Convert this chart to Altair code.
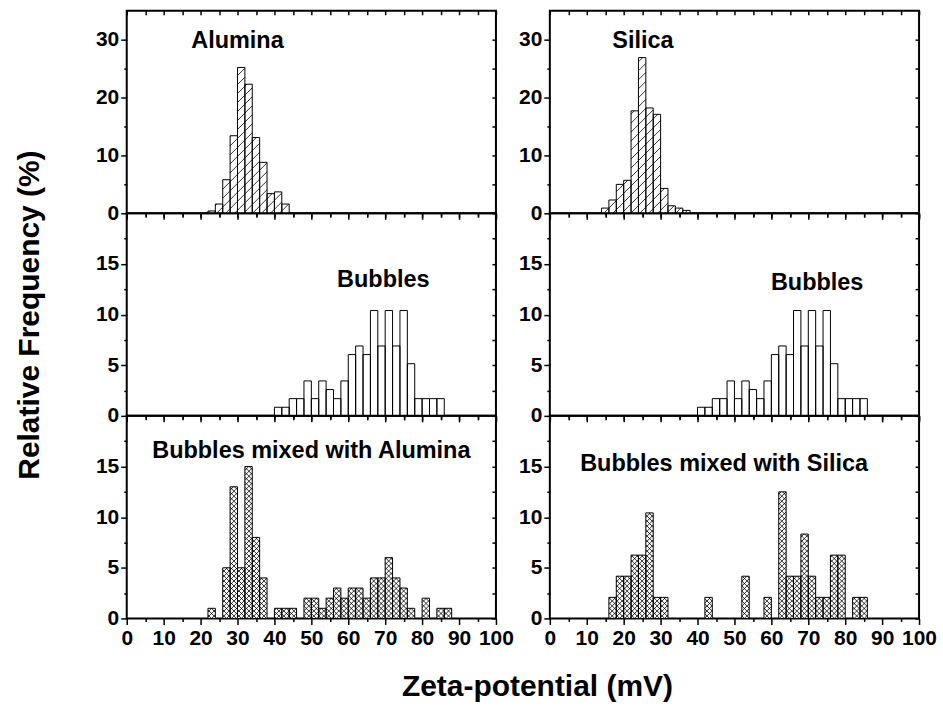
import math
import altair as alt
import pandas as pd

# ---------------------------------------------------------------
# Zeta-potential histograms (2 mV bins), relative frequency in %
# ---------------------------------------------------------------
BIN = 2.0

alumina_start = [22, 24, 26, 28, 30, 32, 34, 36, 38, 40, 42]
alumina_freq = [0.4, 1.6, 5.8, 13.4, 25.2, 22.3, 13.1, 8.8, 3.4, 3.7, 1.6]

silica_start = [14, 16, 18, 20, 22, 24, 26, 28, 30, 32, 34, 36]
silica_freq = [0.9, 2.3, 5.0, 5.7, 17.7, 26.9, 18.2, 17.1, 4.3, 1.3, 0.9, 0.5]

bubble_start = [40, 42, 44, 46, 48, 50, 52, 54, 56, 58, 60, 62,
                64, 66, 68, 70, 72, 74, 76, 78, 80, 82, 84]
bubble_freq = [0.85, 0.85, 1.7, 1.7, 3.45, 1.7, 3.45, 2.6, 1.7, 3.45, 6.05, 6.9,
               6.05, 10.4, 6.9, 10.4, 6.9, 10.4, 5.15, 1.7, 1.7, 1.7, 1.7]

mix_al_start = [22, 26, 28, 30, 32, 34, 36, 40, 42, 44, 48, 50, 52, 54,
                56, 58, 60, 62, 64, 66, 68, 70, 72, 74, 76, 80, 84, 86]
mix_al_freq = [1, 5, 13, 5, 15, 8, 4, 1, 1, 1, 2, 2, 1, 2,
               3, 2, 3, 3, 2, 4, 4, 6, 4, 3, 1, 2, 1, 1]

mix_si_start = [16, 18, 20, 22, 24, 26, 28, 30, 42, 52, 58,
                62, 64, 66, 68, 70, 72, 74, 76, 78, 82, 84]
mix_si_freq = [2.08, 4.17, 4.17, 6.25, 6.25, 10.42, 2.08, 2.08, 2.08, 4.17, 2.08,
               12.5, 4.17, 4.17, 8.33, 4.17, 2.08, 2.08, 6.25, 6.25, 2.08, 2.08]

# ---------------------------------------------------------------
# Panel geometry and styling
# ---------------------------------------------------------------
W, H = 370, 203
FONT = "Liberation Sans"
X_TICKS = [v * 5 for v in range(21)]


def hatch_segments(starts, freqs, ymax, spacing, directions):
    """Diagonal fill lines clipped to each bar, expressed in data units."""
    px = W / 100.0
    py = H / ymax
    rows = []
    for s0, f in zip(starts, freqs):
        x0, x1, hh = s0 * px, (s0 + BIN) * px, f * py
        for d in directions:
            if d == 1:
                cmin, cmax = -x1, hh - x0
            else:
                cmin, cmax = x0, hh + x1
            for k in range(math.ceil(cmin / spacing), math.floor(cmax / spacing) + 1):
                c = k * spacing
                if d == 1:
                    xa, xb = max(x0, -c), min(x1, hh - c)
                else:
                    xa, xb = max(x0, c - hh), min(x1, c)
                if xb - xa < 0.3:
                    continue
                rows.append({"hx": xa / px, "hy": (d * xa + c) / py,
                             "hx2": xb / px, "hy2": (d * xb + c) / py})
    return pd.DataFrame(rows, columns=["hx", "hy", "hx2", "hy2"])


def panel(starts, freqs, ymax, major, minor, pattern, label, label_pos,
          xlabels=False, ytitle=None):
    df = pd.DataFrame({"x0": starts, "freq": freqs})
    df["x1"] = df["x0"] + BIN

    xs = alt.Scale(domain=[0, 100], nice=False, zero=False)
    ys = alt.Scale(domain=[0, ymax], nice=False, zero=True)

    n_minor = int(round(ymax / minor))
    y_vals = [round(i * minor, 3) for i in range(n_minor)]

    bottom_kw = dict(
        orient="bottom", values=X_TICKS, labels=xlabels, title=None,
        tickSize={"condition": {"test": "datum.value % 10 === 0", "value": 6}, "value": 3},
        labelExpr="datum.value % 10 === 0 ? '' + datum.value : ''",
        labelPadding=3,
    )

    left_kw = dict(
        orient="left", values=y_vals,
        tickSize={"condition": {"test": f"datum.value % {major} === 0", "value": 6}, "value": 3},
        labelExpr=f"datum.value % {major} === 0 ? '' + datum.value : ''",
        labelPadding=2,
    )
    if ytitle:
        left_kw.update(title=ytitle, titlePadding=51)
    else:
        left_kw.update(title=None)

    base = alt.Chart(df)

    fill = base.mark_rect(fill="white", stroke=None).encode(
        x=alt.X("x0:Q", scale=xs, axis=alt.Axis(**bottom_kw)),
        x2="x1:Q",
        y=alt.Y("freq:Q", scale=ys, axis=alt.Axis(**left_kw)),
        y2=alt.datum(0),
    )

    layers = [fill]

    if pattern == "diag":
        hd = hatch_segments(starts, freqs, ymax, 9.0, [1])
    elif pattern == "cross":
        hd = hatch_segments(starts, freqs, ymax, 5.0, [1, -1])
    else:
        hd = None
    if hd is not None and len(hd):
        layers.append(
            alt.Chart(hd).mark_rule(color="black", strokeWidth=0.8).encode(
                x=alt.X("hx:Q", scale=xs, axis=None),
                x2="hx2:Q",
                y=alt.Y("hy:Q", scale=ys, axis=None),
                y2="hy2:Q",
            )
        )

    outline = base.mark_rect(fillOpacity=0, stroke="black", strokeWidth=1).encode(
        x=alt.X("x0:Q", scale=xs, axis=None),
        x2="x1:Q",
        y=alt.Y("freq:Q", scale=ys, axis=None),
        y2=alt.datum(0),
    )
    layers.append(outline)

    lab = pd.DataFrame({"t": [label], "lx": [label_pos[0]], "ly": [label_pos[1]]})
    layers.append(
        alt.Chart(lab).mark_text(font=FONT, fontWeight="bold", fontSize=23.5,
                                 align="center", baseline="alphabetic",
                                 color="black").encode(
            x=alt.X("lx:Q", scale=xs, axis=None),
            y=alt.Y("ly:Q", scale=ys, axis=None),
            text="t:N",
        )
    )

    # mirrored top / right axes carrying the inward ticks
    layers.append(
        base.mark_point(opacity=0).encode(
            x=alt.X("x0:Q", scale=xs,
                    axis=alt.Axis(orient="top", values=X_TICKS, labels=False,
                                  tickSize=4, offset=-4, title=None)),
            y=alt.Y("freq:Q", scale=ys,
                    axis=alt.Axis(orient="right", values=y_vals, labels=False,
                                  tickSize=4, offset=-4, title=None)),
        )
    )

    return alt.layer(*layers).resolve_axis(x="independent", y="independent").properties(
        width=W, height=H
    )


# annotation anchor points (data units of each panel)
LABELS = {
    "Alumina": (30.0, 28.5),
    "Silica": (25.2, 28.5),
    "Bubbles_l": (69.5, 12.7),
    "Bubbles_r": (72.4, 12.4),
    "Mix_al": (50.0, 15.8),
    "Mix_si": (47.2, 14.6),
}

p1 = panel(alumina_start, alumina_freq, 35, 10, 5, "diag", "Alumina", LABELS["Alumina"])
p2 = panel(bubble_start, bubble_freq, 20, 5, 2.5, "none", "Bubbles", LABELS["Bubbles_l"],
           ytitle="Relative Frequency (%)")
p3 = panel(mix_al_start, mix_al_freq, 20, 5, 2.5, "cross", "Bubbles mixed with Alumina",
           LABELS["Mix_al"], xlabels=True)

q1 = panel(silica_start, silica_freq, 35, 10, 5, "diag", "Silica", LABELS["Silica"])
q2 = panel(bubble_start, bubble_freq, 20, 5, 2.5, "none", "Bubbles", LABELS["Bubbles_r"])
q3 = panel(mix_si_start, mix_si_freq, 20, 5, 2.5, "cross", "Bubbles mixed with Silica",
           LABELS["Mix_si"], xlabels=True)

left = alt.vconcat(p1, p2, p3, spacing=0, bounds="flush")
right = alt.vconcat(q1, q2, q3, spacing=0, bounds="flush")

x_title = alt.TitleParams(
    "Zeta-potential (mV)", orient="bottom", anchor="middle",
    font=FONT, fontWeight="bold", fontSize=30, color="black",
    offset=23, dx=62,
)

chart = (
    alt.hconcat(left, right, spacing=2)
    .properties(title=x_title,
                padding={"left": 13, "top": 8, "right": 5, "bottom": 5},
                background="white")
    .configure_view(stroke="black", strokeWidth=2)
    .configure_axis(
        domain=False, grid=False,
        labelFont=FONT, labelFontWeight="bold", labelFontSize=21, labelColor="black",
        labelFlush=False, labelOverlap=False,
        tickColor="black", tickWidth=1.5,
        titleFont=FONT, titleFontWeight="bold", titleFontSize=30, titleColor="black",
    )
)

chart.save("out.html", embed_options={"renderer": "svg", "actions": False})
